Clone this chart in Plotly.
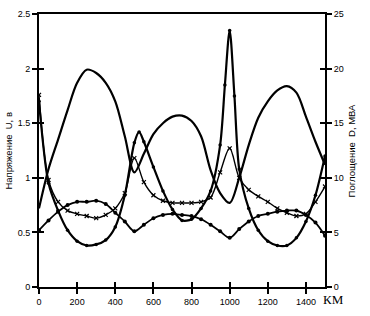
import plotly.graph_objects as go

# distance along the line, km
km = [0, 50, 100, 150, 200, 250, 300, 350, 400, 450, 500, 550, 600, 650, 700, 750,
      800, 850, 900, 950, 1000, 1050, 1100, 1150, 1200, 1250, 1300, 1350, 1400, 1450, 1500]

# curve A (smooth, no markers)
u_a = [0.72, 1.08, 1.35, 1.62, 1.87, 1.99, 1.96, 1.87, 1.70, 1.38, 1.05, 1.22, 1.40, 1.50,
       1.56, 1.57, 1.52, 1.38, 1.07, 0.86, 0.77, 1.00, 1.30, 1.55, 1.70, 1.80, 1.84, 1.78,
       1.56, 1.33, 1.12]

# curve B (dots, sharp peak at 1000 km)
km_b = [0, 50, 100, 150, 200, 250, 300, 350, 400, 450, 500, 525, 550, 600, 650, 700, 750,
        800, 850, 900, 950, 975, 1000, 1025, 1050, 1100, 1150, 1200, 1250, 1300, 1350,
        1400, 1450, 1500]
u_b = [1.70, 0.95, 0.70, 0.52, 0.42, 0.38, 0.39, 0.43, 0.55, 0.84, 1.32, 1.42, 1.33, 1.10,
       0.88, 0.71, 0.61, 0.62, 0.72, 0.88, 1.30, 1.85, 2.35, 1.75, 1.08, 0.72, 0.52, 0.42,
       0.38, 0.38, 0.45, 0.60, 0.84, 1.20]

# curve C (x markers)
u_c = [1.76, 0.98, 0.78, 0.70, 0.67, 0.65, 0.63, 0.66, 0.72, 0.86, 1.18, 0.96, 0.84, 0.79,
       0.77, 0.77, 0.77, 0.78, 0.82, 1.05, 1.27, 1.00, 0.89, 0.83, 0.78, 0.72, 0.68, 0.65,
       0.67, 0.78, 0.92]

# curve D (filled dots)
u_d = [0.52, 0.61, 0.69, 0.75, 0.78, 0.78, 0.79, 0.76, 0.68, 0.60, 0.51, 0.57, 0.63, 0.66,
       0.67, 0.66, 0.65, 0.62, 0.57, 0.51, 0.45, 0.53, 0.60, 0.65, 0.67, 0.69, 0.70, 0.70,
       0.66, 0.59, 0.47]

x_ticks = [0, 200, 400, 600, 800, 1000, 1200, 1400]
y_ticks = [0, 0.5, 1, 1.5, 2, 2.5]
y2_ticks = [0, 5, 10, 15, 20, 25]

fig = go.Figure()
fig.add_trace(go.Scatter(x=km, y=u_a, mode="lines",
                         line=dict(color="black", width=2.2, shape="spline", smoothing=0.9)))
fig.add_trace(go.Scatter(x=km_b, y=u_b, mode="lines+markers",
                         line=dict(color="black", width=2.2, shape="spline", smoothing=0.8),
                         marker=dict(symbol="circle", size=3.5, color="black")))
fig.add_trace(go.Scatter(x=km, y=u_c, mode="lines+markers",
                         line=dict(color="black", width=1.4, shape="spline", smoothing=0.9),
                         marker=dict(symbol="x-thin", size=4, color="black",
                                     line=dict(color="black", width=1.2))))
fig.add_trace(go.Scatter(x=km, y=u_d, mode="lines+markers",
                         line=dict(color="black", width=1.8, shape="spline", smoothing=0.9),
                         marker=dict(symbol="circle", size=4, color="black")))
# helper traces so overlay axes are drawn
fig.add_trace(go.Scatter(x=[None], y=[None], xaxis="x2", yaxis="y", showlegend=False))
fig.add_trace(go.Scatter(x=[None], y=[None], xaxis="x", yaxis="y2", showlegend=False))
fig.add_trace(go.Scatter(x=[None], y=[None], xaxis="x", yaxis="y3", showlegend=False))
fig.add_trace(go.Scatter(x=[None], y=[None], xaxis="x", yaxis="y4", showlegend=False))

tickfont = dict(family="Liberation Sans, Arial, sans-serif", size=9, color="black")
common = dict(showgrid=False, zeroline=False, tickcolor="black", tickwidth=1.5, ticklen=5)

fig.update_layout(
    width=370, height=316,
    margin=dict(l=39, r=45, t=9, b=25),
    paper_bgcolor="white", plot_bgcolor="white",
    showlegend=False,
    xaxis=dict(range=[0, 1500], tickvals=x_ticks, ticks="outside", showline=True,
               linecolor="black", linewidth=2, mirror=True, tickfont=tickfont, **common),
    xaxis2=dict(range=[0, 1500], tickvals=x_ticks, ticks="inside", overlaying="x",
                anchor="y", showticklabels=False, showline=False, **common),
    yaxis=dict(range=[0, 2.5], tickvals=y_ticks, ticks="outside", showline=True,
               linecolor="black", linewidth=2, tickfont=tickfont, **common),
    yaxis2=dict(range=[0, 25], tickvals=y2_ticks, ticks="outside", overlaying="y",
                side="right", anchor="x", showline=True, linecolor="black", linewidth=2,
                tickfont=tickfont, **common),
    yaxis3=dict(range=[0, 2.5], tickvals=y_ticks, ticks="inside", overlaying="y",
                side="left", anchor="x", showticklabels=False, **common),
    yaxis4=dict(range=[0, 25], tickvals=y2_ticks, ticks="inside", overlaying="y",
                side="right", anchor="x", showticklabels=False, **common),
)

titlefont = dict(family="Liberation Sans, Arial, sans-serif", size=9.5, color="black")
fig.add_annotation(text="Напряжение  U, в", xref="paper", yref="paper",
                   x=-0.108, y=0.5, xanchor="center", yanchor="middle",
                   textangle=-90, showarrow=False, font=titlefont)
fig.add_annotation(text="Поглощение  D, МВА", xref="paper", yref="paper",
                   x=1.094, y=0.5, xanchor="center", yanchor="middle",
                   textangle=-90, showarrow=False, font=titlefont)
fig.add_annotation(text="КМ", xref="paper", yref="paper", x=0.985, y=-0.045,
                   xanchor="left", yanchor="middle", showarrow=False,
                   font=dict(family="Liberation Serif, Times New Roman, serif", size=13,
                             color="black"))

fig.write_html("out.html")
